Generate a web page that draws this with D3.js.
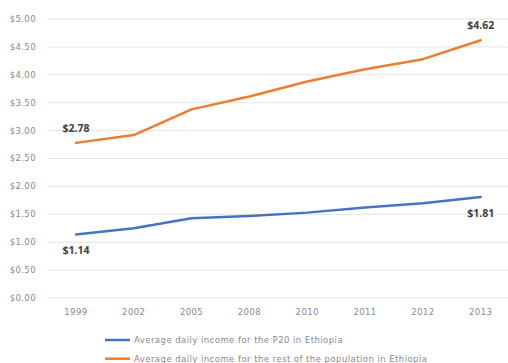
<!DOCTYPE html>
<html>
<head>
<meta charset="utf-8">
<script src="https://cdn.jsdelivr.net/npm/d3@7"></script>
<style>
  body { margin: 0; background: #fff; }
  svg text { font-family: "DejaVu Sans", sans-serif; }
  .tick-label { fill: #8a8a8a; font-size: 8.5px; letter-spacing: 0.4px; }
  .val-label { fill: #404040; font-size: 10.5px; font-weight: bold; font-family: "Open Sans", sans-serif; }
  .legend-label { fill: #8a8a8a; font-size: 8.5px; letter-spacing: 0.45px; }
</style>
</head>
<body>
<div id="chart"></div>
<script>
// data
const years = ['1999', '2002', '2005', '2008', '2010', '2011', '2012', '2013'];
const p20 = [1.14, 1.25, 1.43, 1.47, 1.53, 1.62, 1.70, 1.81];
const rest = [2.78, 2.92, 3.38, 3.61, 3.88, 4.10, 4.28, 4.62];
const yTicks = [0, 0.5, 1, 1.5, 2, 2.5, 3, 3.5, 4, 4.5, 5];
const seriesNames = [
  'Average daily income for the P20 in Ethiopia',
  'Average daily income for the rest of the population in Ethiopia'
];

const width = 508;
const height = 363;
const colors = ['#4472c4', '#ed7d31'];

const svg = d3.select('#chart').append('svg')
  .attr('width', width)
  .attr('height', height);

const x = d3.scalePoint()
  .domain(years)
  .range([47, 509.6])
  .padding(0.5);

const y = d3.scaleLinear()
  .domain([0, 5])
  .range([298, 19]);

// gridlines
svg.append('g').selectAll('line')
  .data(yTicks)
  .join('line')
  .attr('x1', 47)
  .attr('x2', 510)
  .attr('y1', d => y(d))
  .attr('y2', d => y(d))
  .attr('stroke', '#e3e3e3')
  .attr('stroke-width', 1);

// y labels
svg.append('g').selectAll('text')
  .data(yTicks)
  .join('text')
  .attr('class', 'tick-label')
  .attr('x', 36)
  .attr('y', d => y(d))
  .attr('dy', '0.35em')
  .attr('text-anchor', 'end')
  .text(d => '$' + d.toFixed(2));

// x labels
svg.append('g').selectAll('text')
  .data(years)
  .join('text')
  .attr('class', 'tick-label')
  .attr('x', d => x(d))
  .attr('y', 312)
  .attr('dy', '0.35em')
  .attr('text-anchor', 'middle')
  .text(d => d);

const line = d3.line()
  .x((d, i) => x(years[i]))
  .y(d => y(d));

[p20, rest].forEach((s, i) => {
  svg.append('path')
    .datum(s)
    .attr('d', line)
    .attr('fill', 'none')
    .attr('stroke', colors[i])
    .attr('stroke-width', 2.5)
    .attr('stroke-linejoin', 'round')
    .attr('stroke-linecap', 'round');
});

// value labels at the ends
const first = 0, last = years.length - 1;
const labels = [
  { v: rest[first], i: first, dy: -15 },
  { v: rest[last], i: last, dy: -15 },
  { v: p20[first], i: first, dy: 16 },
  { v: p20[last], i: last, dy: 16 }
];
svg.append('g').selectAll('text')
  .data(labels)
  .join('text')
  .attr('class', 'val-label')
  .attr('x', d => x(years[d.i]))
  .attr('y', d => y(d.v) + d.dy)
  .attr('dy', '0.35em')
  .attr('text-anchor', 'middle')
  .text(d => '$' + d.v.toFixed(2));

// legend
const legend = svg.append('g');
seriesNames.forEach((name, i) => {
  const ly = 340 + i * 18.7;
  legend.append('line')
    .attr('x1', 105).attr('x2', 130)
    .attr('y1', ly).attr('y2', ly)
    .attr('stroke', colors[i])
    .attr('stroke-width', 2.5);
  legend.append('text')
    .attr('class', 'legend-label')
    .attr('x', 134)
    .attr('y', ly)
    .attr('dy', '0.35em')
    .text(name);
});
</script>
</body>
</html>
